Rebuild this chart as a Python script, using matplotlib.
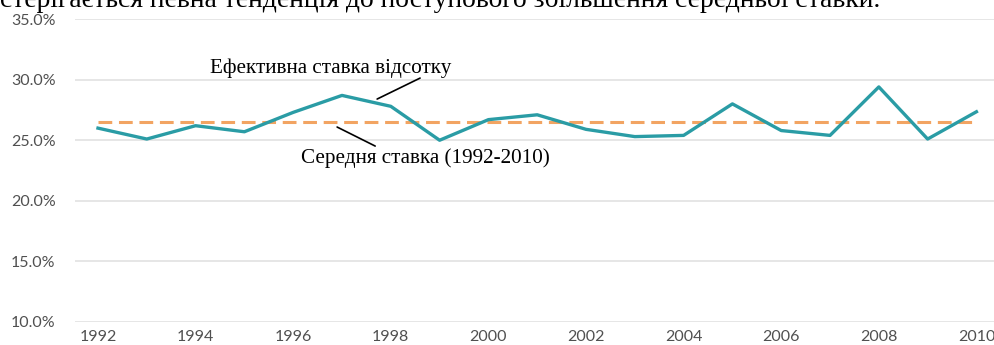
import numpy as np
import matplotlib.pyplot as plt
from matplotlib.patches import Rectangle

# Effective interest rate by year (per cent)
years=np.arange(1992,2011)
rate=[26.0,25.1,26.2,25.7,27.3,28.7,27.8,25.0,26.7,27.1,25.9,25.3,25.4,28.0,25.8,25.4,29.4,25.1,27.35]
mean_rate=np.mean(rate)

yticks=[10,15,20,25,30,35]
xticks=np.arange(1992,2011,2)

top_text="стерігається певна тенденція до поступового збільшення середньої ставки."
label_rate="Ефективна ставка відсотку"
label_mean="Середня ставка (1992-2010)"

teal="#2a9ca5"
orange="#f2a462"
tickcolor="#505050"

fig=plt.figure(figsize=(9.94,3.45),dpi=100)
ax=fig.add_axes([0.0755,0.0667,0.9245,0.878])

ax.set_xlim(1991.53,2010.36)
ax.set_ylim(10,35)
ax.set_yticks(yticks)
ax.set_yticklabels([f"{v:.1f}%" for v in yticks])
ax.set_xticks(xticks)
for s in ax.spines.values():
    s.set_visible(False)
ax.tick_params(axis='both',length=0,labelsize=11.5,labelcolor=tickcolor)
ax.tick_params(axis='y',pad=14)
ax.tick_params(axis='x',pad=6)
for lab in ax.get_xticklabels()+ax.get_yticklabels():
    lab.set_fontfamily("Lato")
ax.grid(axis='y',color="#e2e2e2",linewidth=1.2)
ax.set_axisbelow(True)

# white patch that hides the grid behind the upper label
ax.add_patch(Rectangle((1994.09,30.05),7.38,2.25,facecolor="white",edgecolor="none",zorder=1))

ax.plot(years,[mean_rate]*len(years),color=orange,linewidth=2.2,dashes=(4.5,2.2),zorder=2)
ax.plot(years,rate,color=teal,linewidth=2.4,zorder=3)

serif=["Liberation Serif","DejaVu Serif"]
ax.text(1996.77,30.96,label_rate,fontsize=15.2,family=serif,ha='center',va='center',zorder=4)
ax.annotate("",xy=(1997.72,28.4),xytext=(1998.6,30.13),arrowprops=dict(arrowstyle='-',color='black',linewidth=1.2,shrinkA=0,shrinkB=0),zorder=4)
ax.text(1998.7,23.53,label_mean,fontsize=15.2,family=serif,ha='center',va='center',zorder=4)
ax.annotate("",xy=(1996.9,26.09),xytext=(1997.68,24.52),arrowprops=dict(arrowstyle='-',color='black',linewidth=1.2,shrinkA=0,shrinkB=0),zorder=4)

fig.text(0.0,1-7/345,top_text,fontsize=19.9,family=serif,ha='left',va='baseline')

fig.savefig("out.png",dpi=100)
plt.close(fig)
